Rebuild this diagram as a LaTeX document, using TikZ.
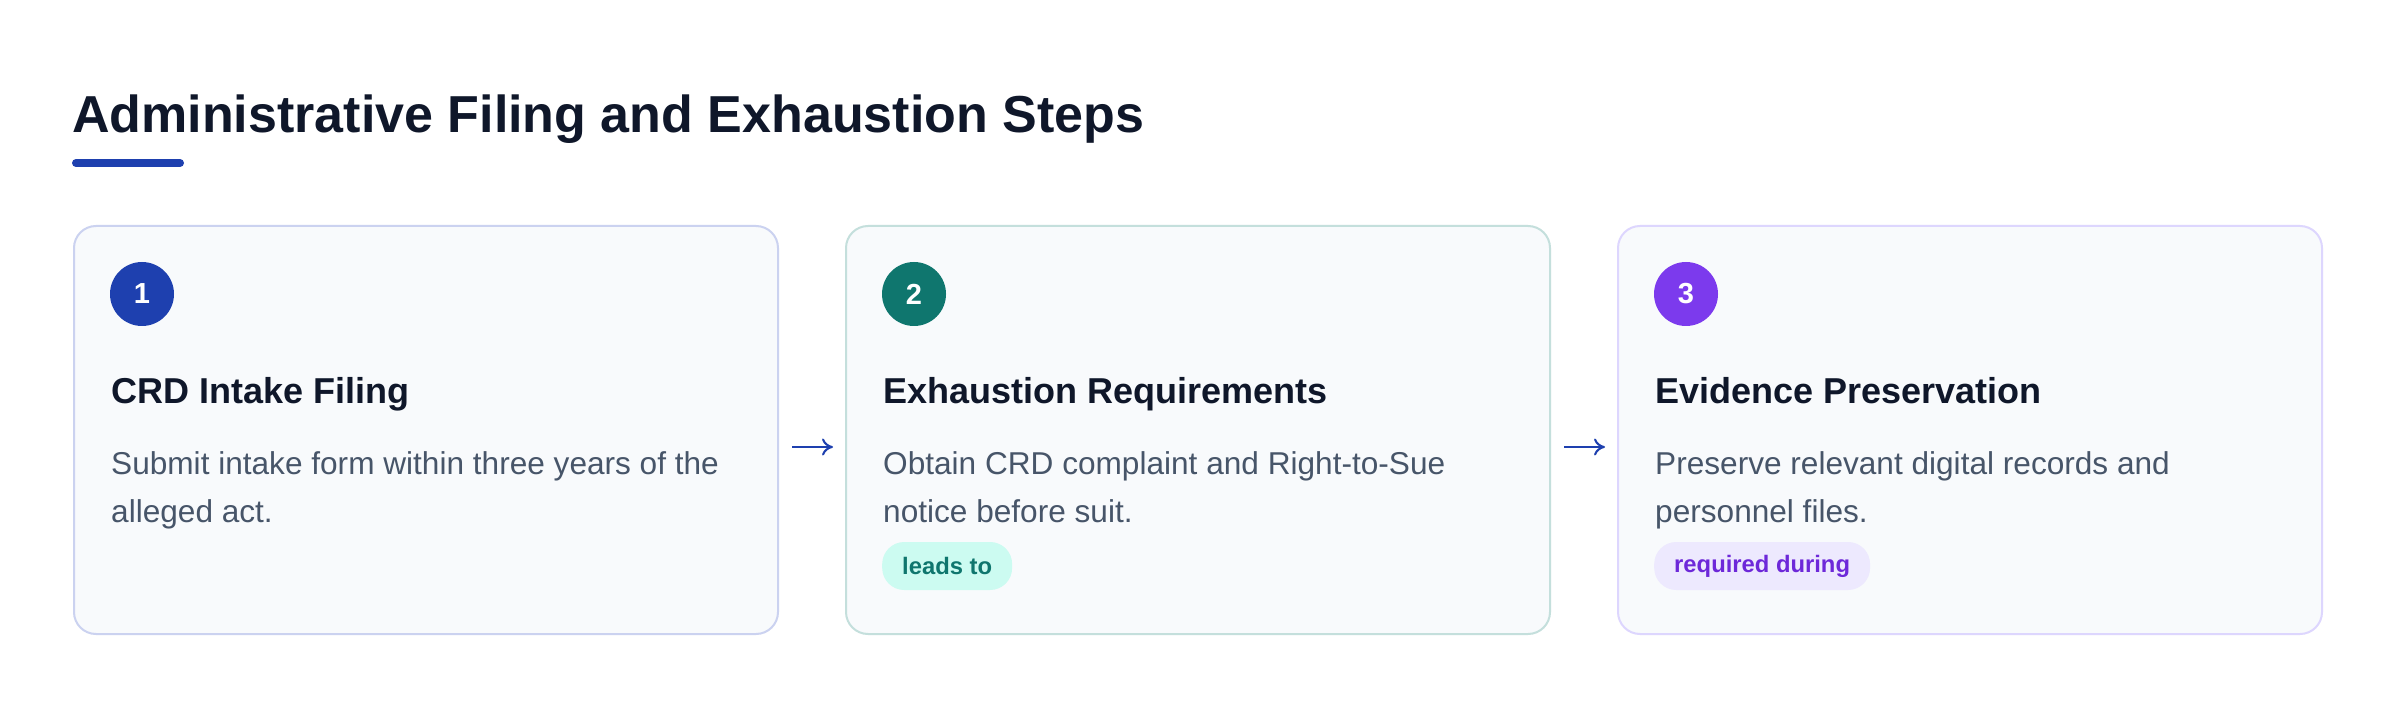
\documentclass[tikz,border=0pt]{standalone}
\usepackage{fontspec}
\setmainfont{Liberation Sans}
\usetikzlibrary{arrows.meta}
\definecolor{titlec}{HTML}{0F172A}
\definecolor{accent}{HTML}{1E40AF}
\definecolor{tealc}{HTML}{0F766E}
\definecolor{purplec}{HTML}{7C3AED}
\definecolor{bodyc}{HTML}{475569}
\definecolor{cardfill}{HTML}{F8FAFC}
\definecolor{bordA}{HTML}{CBD2F0}
\definecolor{bordB}{HTML}{C4DFDC}
\definecolor{bordC}{HTML}{DDD6FE}
\definecolor{badgeBfill}{HTML}{CCFBF1}
\definecolor{badgeCfill}{HTML}{EDE9FE}
\definecolor{badgeCtext}{HTML}{6D28D9}
\tikzset{
  card/.style={draw, line width=2pt, fill=cardfill, rounded corners=22pt,
    minimum width=704pt, minimum height=408pt, inner sep=0pt},
  numdot/.style={circle, minimum size=64pt, inner sep=0pt, text=white,
    font=\fontsize{29}{29}\selectfont\bfseries},
  headtxt/.style={anchor=base west, inner sep=0pt, text=titlec,
    font=\fontsize{36}{36}\selectfont\bfseries},
  bodytxt/.style={anchor=base west, inner sep=0pt, text=bodyc,
    font=\fontsize{31.6}{32}\selectfont},
  badge/.style={anchor=west, rounded corners=22pt, minimum height=48pt,
    inner xsep=20pt, inner ysep=0pt, font=\fontsize{23.8}{24}\selectfont\bfseries},
  flow/.style={draw=accent, line width=2pt, -{To[length=11pt,width=17pt,line width=2pt]},
    shorten <=13pt, shorten >=12pt}
}
\begin{document}
\begin{tikzpicture}[x=1pt,y=-1pt]
\useasboundingbox[fill=white] (0,0) rectangle (2400,708);
% title
\node[anchor=base west, inner sep=0pt, text=titlec,
  font=\fontsize{52}{52}\selectfont\bfseries] (title) at (72,133)
  {Administrative Filing and Exhaustion Steps};
\draw[accent, line width=8pt, line cap=round] (76,163) -- (180,163);
% cards
\node[card, draw=bordA] (c1) at (426,430) {};
\node[card, draw=bordB] (c2) at (1198,430) {};
\node[card, draw=bordC] (c3) at (1970,430) {};
% card 1
\node[numdot, fill=accent] (n1) at (142,294) {1};
\node[headtxt] (h1) at (111,403) {CRD Intake Filing};
\node[bodytxt] (b1a) at (111,474) {Submit intake form within three years of the};
\node[bodytxt] (b1b) at (111,522) {alleged act.};
% card 2
\node[numdot, fill=tealc] (n2) at (914,294) {2};
\node[headtxt] (h2) at (883,403) {Exhaustion Requirements};
\node[bodytxt] (b2a) at (883,474) {Obtain CRD complaint and Right-to-Sue};
\node[bodytxt] (b2b) at (883,522) {notice before suit.};
\node[badge, fill=badgeBfill, text=tealc] (g2) at (882,566) {leads to};
% card 3
\node[numdot, fill=purplec] (n3) at (1686,294) {3};
\node[headtxt] (h3) at (1655,403) {Evidence Preservation};
\node[bodytxt] (b3a) at (1655,474) {Preserve relevant digital records and};
\node[bodytxt] (b3b) at (1655,522) {personnel files.};
\node[badge, fill=badgeCfill, text=badgeCtext] (g3) at (1654,566) {required during};
% connectors
\draw[flow] ([yshift=-17pt]c1.east) -- ([yshift=-17pt]c2.west);
\draw[flow] ([yshift=-17pt]c2.east) -- ([yshift=-17pt]c3.west);
\end{tikzpicture}
\end{document}
